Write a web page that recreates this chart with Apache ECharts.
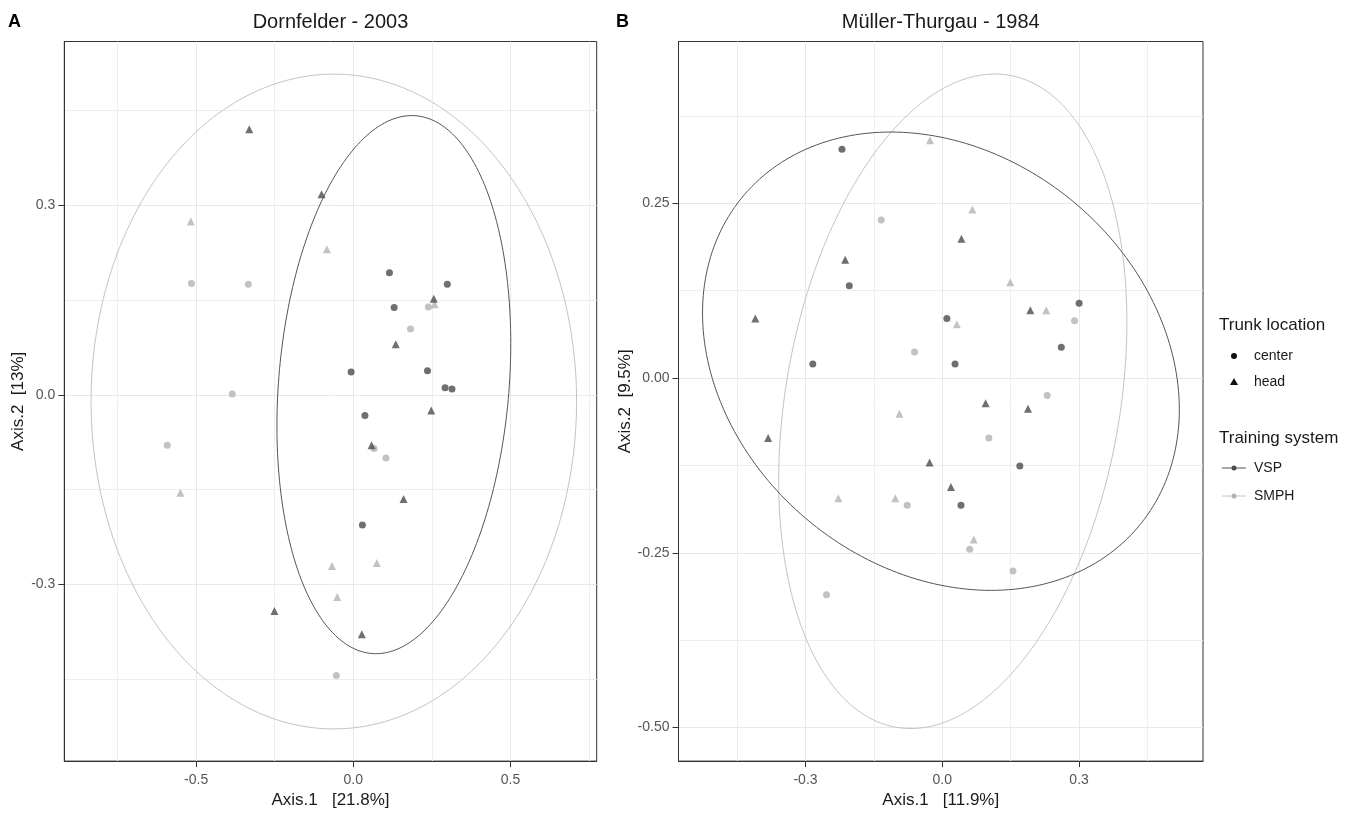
<!DOCTYPE html>
<html><head><meta charset="utf-8">
<script src="https://cdn.jsdelivr.net/npm/echarts@6/dist/echarts.min.js"></script>
<style>html,body{margin:0;padding:0;background:#fff}#c{width:1356px;height:814px}</style>
</head><body><div id="c"></div>
<script>
// ---------- Panel A: Dornfelder - 2003 ----------
const A_vspCenter  = [[0.115,0.193],[0.299,0.175],[0.130,0.138],[-0.007,0.036],[0.236,0.038],[0.292,0.011],[0.314,0.009],[0.037,-0.033],[0.029,-0.206]];
const A_vspHead    = [[-0.331,0.420],[-0.101,0.317],[0.256,0.152],[0.135,0.080],[0.248,-0.025],[0.058,-0.080],[0.160,-0.165],[-0.251,-0.342],[0.027,-0.379]];
const A_smphCenter = [[-0.515,0.176],[-0.334,0.175],[0.239,0.139],[0.182,0.104],[-0.385,0.001],[-0.592,-0.080],[0.066,-0.085],[0.104,-0.100],[-0.054,-0.444]];
const A_smphHead   = [[-0.517,0.274],[-0.084,0.230],[0.259,0.143],[-0.550,-0.155],[-0.068,-0.271],[0.075,-0.266],[-0.051,-0.320]];
// ellipse: [centerX, centerY, halfWidth, halfHeight, x-offset of top point]
const A_vspEllipse  = [0.129, 0.016, 0.372, 0.4256, 0.057];
const A_smphEllipse = [-0.062, -0.0107, 0.7724, 0.5179, 0.0];
const A_xRange = [-0.9195, 0.7744];
const A_yRange = [-0.5795, 0.5588];
const A_xTicks = [-0.5, 0, 0.5];
const A_xMinor = [-0.75, -0.25, 0.25, 0.75];
const A_yTicks = [-0.3, 0, 0.3];
const A_yMinor = [-0.45, -0.15, 0.15, 0.45];

// ---------- Panel B: Müller-Thurgau - 1984 ----------
const B_vspCenter  = [[-0.220,0.327],[-0.204,0.132],[0.010,0.085],[0.300,0.107],[0.261,0.044],[-0.284,0.020],[0.028,0.020],[0.170,-0.126],[0.041,-0.182]];
const B_vspHead    = [[0.042,0.199],[-0.213,0.169],[-0.410,0.085],[0.193,0.097],[0.095,-0.036],[0.188,-0.044],[-0.382,-0.086],[-0.028,-0.121],[0.019,-0.156]];
const B_smphCenter = [[-0.134,0.226],[0.290,0.082],[-0.061,0.037],[0.230,-0.025],[0.102,-0.086],[-0.077,-0.182],[0.060,-0.245],[0.155,-0.276],[-0.254,-0.310]];
const B_smphHead   = [[-0.027,0.340],[0.066,0.241],[0.149,0.137],[0.032,0.077],[0.228,0.097],[-0.094,-0.051],[-0.228,-0.172],[-0.103,-0.172],[0.069,-0.231]];
const B_vspEllipse  = [-0.003, 0.024, 0.5228, 0.3278, -0.110];
const B_smphEllipse = [0.023, -0.0333, 0.3818, 0.4681, 0.092];
const B_xRange = [-0.5785, 0.5717];
const B_yRange = [-0.548, 0.4813];
const B_xTicks = [-0.3, 0, 0.3];
const B_xMinor = [-0.45, -0.15, 0.15, 0.45];
const B_yTicks = [-0.5, -0.25, 0, 0.25];
const B_yMinor = [-0.375, -0.125, 0.125, 0.375];

const titles = ['Dornfelder - 2003', 'Müller-Thurgau - 1984'];
const panelLetters = ['A', 'B'];
const xNames = ['Axis.1   [21.8%]', 'Axis.1   [11.9%]'];
const yNames = ['Axis.2  [13%]', 'Axis.2  [9.5%]'];
const shapeLegend = ['center', 'head'];
const colorLegend = ['VSP', 'SMPH'];

const FONT = 'Liberation Sans, Arial, sans-serif';
const DARK = '#4b4b4b', LIGHT = '#b3b3b3';
const DARK_LINE = '#555555', LIGHT_LINE = '#c4c4c4';

function ellipsePath(p) {
  const [cx, cy, hw, hh, off] = p;
  const c = off * hh / hw;
  const d = Math.sqrt(hh * hh - c * c);
  const pts = [];
  for (let i = 0; i <= 240; i++) {
    const t = i / 240 * 2 * Math.PI;
    pts.push([cx + hw * Math.cos(t), cy + c * Math.cos(t) + d * Math.sin(t)]);
  }
  return pts;
}

const grids = [
  {left: 64.3, top: 41.5, width: 532.4, height: 723.5},
  {left: 678.5, top: 41.5, width: 524.5, height: 724}
].map(g => Object.assign(g, {show: true, borderColor: '#333', borderWidth: 1, backgroundColor: 'transparent', containLabel: false}));

function majorAxis(dim, gi, range, ticks, dec, name, gap) {
  return {
    type: 'value', gridIndex: gi, min: range[0], max: range[1],
    axisLine: {show: true, onZero: false, lineStyle: {color: '#333', width: 1}},
    axisTick: {show: true, length: 6, customValues: ticks, lineStyle: {color: '#333', width: 1}},
    axisLabel: {customValues: ticks, formatter: v => Number(v).toFixed(dec), color: '#555', fontSize: 14, fontFamily: FONT, margin: dim === 'x' ? 12 : 9},
    splitLine: {show: true, lineStyle: {color: '#e8e8e8', width: 1}},
    name: name, nameLocation: 'middle', nameGap: gap,
    nameTextStyle: {fontSize: 17, color: '#1a1a1a', fontFamily: FONT}
  };
}
function minorAxis(gi, range, minor) {
  return {
    type: 'value', gridIndex: gi, min: range[0], max: range[1],
    axisLine: {show: false}, axisLabel: {show: false},
    axisTick: {show: false, customValues: minor},
    splitLine: {show: true, lineStyle: {color: '#eeeeee', width: 1}}
  };
}

const xAxis = [
  majorAxis('x', 0, A_xRange, A_xTicks, 1, xNames[0], 30),
  minorAxis(0, A_xRange, A_xMinor),
  majorAxis('x', 1, B_xRange, B_xTicks, 1, xNames[1], 30),
  minorAxis(1, B_xRange, B_xMinor)
];
const yAxis = [
  majorAxis('y', 0, A_yRange, A_yTicks, 1, yNames[0], 37),
  minorAxis(0, A_yRange, A_yMinor),
  majorAxis('y', 1, B_yRange, B_yTicks, 2, yNames[1], 43),
  minorAxis(1, B_yRange, B_yMinor)
];

function panelSeries(ax, vc, vh, sc, sh, ve, se) {
  const base = {type: 'scatter', xAxisIndex: ax, yAxisIndex: ax, silent: true, z: 3};
  const line = {type: 'line', xAxisIndex: ax, yAxisIndex: ax, showSymbol: false, symbol: 'none', silent: true, z: 2, animation: false};
  return [
    Object.assign({}, line, {data: ellipsePath(se), lineStyle: {color: LIGHT_LINE, width: 1}}),
    Object.assign({}, line, {data: ellipsePath(ve), lineStyle: {color: DARK_LINE, width: 1}}),
    Object.assign({}, base, {data: sc, symbol: 'circle', symbolSize: 7, itemStyle: {color: LIGHT}}),
    Object.assign({}, base, {data: sh, symbol: 'triangle', symbolSize: 8, itemStyle: {color: LIGHT}}),
    Object.assign({}, base, {data: vc, symbol: 'circle', symbolSize: 7, itemStyle: {color: DARK}}),
    Object.assign({}, base, {data: vh, symbol: 'triangle', symbolSize: 8, itemStyle: {color: DARK}})
  ];
}

const series = [].concat(
  panelSeries(0, A_vspCenter, A_vspHead, A_smphCenter, A_smphHead, A_vspEllipse, A_smphEllipse),
  panelSeries(2, B_vspCenter, B_vspHead, B_smphCenter, B_smphHead, B_vspEllipse, B_smphEllipse)
);

const txt = (x, y, text, size, extra) => ({type: 'text', x: x, y: y, style: Object.assign({text: text, fontSize: size, fontFamily: FONT, fill: '#1a1a1a', textVerticalAlign: 'middle'}, extra || {})});

const graphic = [
  txt(330.5, 22, titles[0], 20, {textAlign: 'center'}),
  txt(940.7, 22, titles[1], 20, {textAlign: 'center'}),
  txt(8, 22, panelLetters[0], 18, {fontWeight: 'bold', fill: '#000'}),
  txt(616, 22, panelLetters[1], 18, {fontWeight: 'bold', fill: '#000'}),
  // legend: Trunk location
  txt(1219, 325, 'Trunk location', 17),
  {type: 'circle', shape: {cx: 1234, cy: 356, r: 3}, style: {fill: '#111'}},
  txt(1254, 356, shapeLegend[0], 14),
  {type: 'polygon', shape: {points: [[1234, 378], [1238, 385], [1230, 385]]}, style: {fill: '#111'}},
  txt(1254, 382, shapeLegend[1], 14),
  // legend: Training system
  txt(1219, 438, 'Training system', 17),
  {type: 'line', shape: {x1: 1222, y1: 468, x2: 1246, y2: 468}, style: {stroke: DARK_LINE, lineWidth: 1}},
  {type: 'circle', shape: {cx: 1234, cy: 468, r: 2.5}, style: {fill: DARK}},
  txt(1254, 468, colorLegend[0], 14),
  {type: 'line', shape: {x1: 1222, y1: 496, x2: 1246, y2: 496}, style: {stroke: LIGHT_LINE, lineWidth: 1}},
  {type: 'circle', shape: {cx: 1234, cy: 496, r: 2.5}, style: {fill: LIGHT}},
  txt(1254, 496, colorLegend[1], 14)
];

const chart = echarts.init(document.getElementById('c'), null, {renderer: 'canvas'});
chart.setOption({
  animation: false,
  backgroundColor: '#fff',
  grid: grids,
  xAxis: xAxis,
  yAxis: yAxis,
  series: series,
  graphic: graphic
});
</script></body></html>
